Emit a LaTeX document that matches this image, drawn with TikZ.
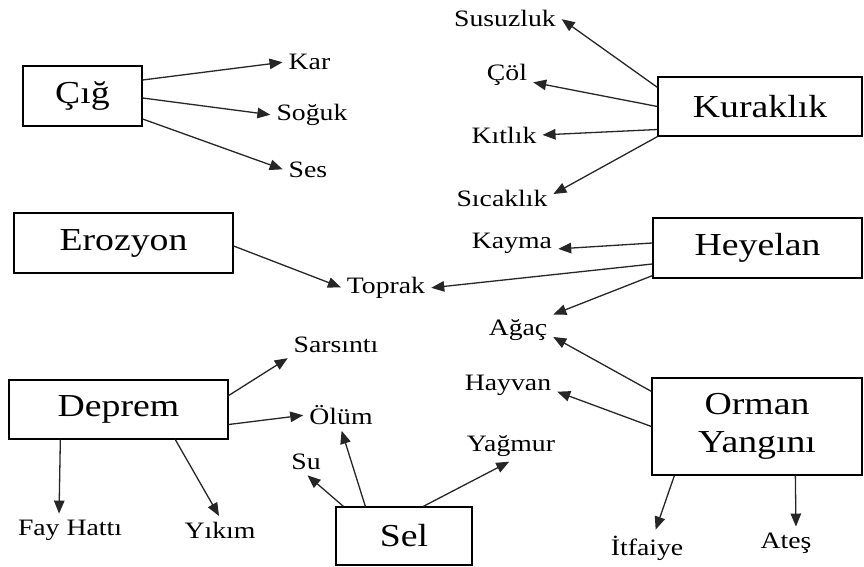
\documentclass[tikz,border=0pt]{standalone}
\usepackage{fontspec}
\setmainfont{Liberation Serif}[FakeStretch=1.18]
\usepackage{tikz}
\usetikzlibrary{arrows.meta, positioning}

\begin{document}
\begin{tikzpicture}[
            x=1pt, y=-1pt,
            % Styles
            disaster/.style={rectangle, draw, line width=1.3pt, align=center, font=\fontsize{32}{38}\selectfont},
            effect/.style={inner sep=4pt, font=\fontsize{23.5}{28}\selectfont},
            arrow/.style={line width=1.3pt, black!85, shorten >=2pt, -{Triangle[length=13pt, width=10.5pt]}}
        ]
        \useasboundingbox (0,0) rectangle (864,567);

        % --- DISASTER BOXES ---
        \node (cig) [disaster, minimum width=119pt, minimum height=60pt] at (82.5,96) {Çığ};
        \node (kurak) [disaster, minimum width=204pt, minimum height=59pt] at (760,106.5) {Kuraklık};
        \node (eroz) [disaster, minimum width=219pt, minimum height=60pt] at (123.5,243) {Erozyon};
        \node (hey) [disaster, minimum width=209pt, minimum height=60pt] at (757.5,248) {Heyelan};
        \node (dep) [disaster, minimum width=219pt, minimum height=59pt] at (118.5,409.5) {Deprem};
        \node (sel) [disaster, minimum width=136pt, minimum height=58pt] at (404,536) {Sel};
        \node (orman) [disaster, minimum width=210pt, minimum height=97pt] at (757,426.5) {Orman\\Yangını};

        % --- EFFECTS ---
        \node (kar) [effect] at (309.5,62) {Kar};
        \node (soguk) [effect] at (312,115) {Soğuk};
        \node (ses) [effect] at (308,170) {Ses};
        \node (susuz) [effect] at (505,18) {Susuzluk};
        \node (col) [effect] at (507,75) {Çöl};
        \node (kitlik) [effect] at (504,135) {Kıtlık};
        \node (sicak) [effect] at (502,198) {Sıcaklık};
        \node (kayma) [effect] at (512,243) {Kayma};
        \node (toprak) [effect] at (386,288) {Toprak};
        \node (agac) [effect] at (518,330) {Ağaç};
        \node (hayvan) [effect] at (508,385) {Hayvan};
        \node (sars) [effect] at (336,345) {Sarsıntı};
        \node (olum) [effect] at (341,415) {Ölüm};
        \node (su) [effect] at (306,462) {Su};
        \node (yagmur) [effect] at (511,446) {Yağmur};
        \node (fay) [effect] at (70,530) {Fay Hattı};
        \node (yikim) [effect] at (220,530) {Yıkım};
        \node (itf) [effect] at (647,548) {İtfaiye};
        \node (ates) [effect] at (786,543) {Ateş};

        % --- CIG ---
        \draw [arrow] ([yshift=16pt]cig.east) -- (kar.west);
        \draw [arrow] ([yshift=-2pt]cig.east) -- (soguk.west);
        \draw [arrow] ([yshift=-23pt]cig.east) -- (ses.west);

        % --- KURAKLIK ---
        \draw [arrow] ([yshift=-11pt]kurak.north west) -- (susuz.east);
        \draw [arrow] (kurak.west) -- ([yshift=-7pt]col.east);
        \draw [arrow] ([yshift=-23pt]kurak.west) -- (kitlik.east);
        \draw [arrow] (kurak.south west) -- ([yshift=3pt]sicak.east);

        % --- EROZYON / HEYELAN ---
        \draw [arrow] ([yshift=-3pt]eroz.east) -- (toprak.west);
        \draw [arrow] ([yshift=5pt]hey.west) -- ([yshift=-6pt]kayma.east);
        \draw [arrow] ([yshift=-16pt]hey.west) -- (toprak.east);
        \draw [arrow] ([yshift=3pt]hey.south west) -- (agac.north east);

        % --- ORMAN YANGINI ---
        \draw [arrow] ([yshift=-14pt]orman.north west) -- ([yshift=-6pt]agac.east);
        \draw [arrow] (orman.west) -- ([yshift=-6pt]hayvan.east);
        \draw [arrow] ([xshift=23pt]orman.south west) -- ([xshift=8pt]itf.north);
        \draw [arrow] ([xshift=144pt]orman.south west) -- ([xshift=10pt]ates.north);

        % --- DEPREM ---
        \draw [arrow] ([yshift=14pt]dep.east) -- (sars.south west);
        \draw [arrow] ([yshift=-15pt]dep.east) -- (olum.west);
        \draw [arrow] ([xshift=52pt]dep.south west) -- ([xshift=-11pt]fay.north);
        \draw [arrow] ([xshift=167pt]dep.south west) -- (yikim.north);

        % --- SEL ---
        \draw [arrow] ([xshift=8pt]sel.north west) -- (su.south);
        \draw [arrow] ([xshift=30pt]sel.north west) -- (olum.south);
        \draw [arrow] ([xshift=88pt]sel.north west) -- (yagmur.south);

        \end{tikzpicture}
\end{document}
